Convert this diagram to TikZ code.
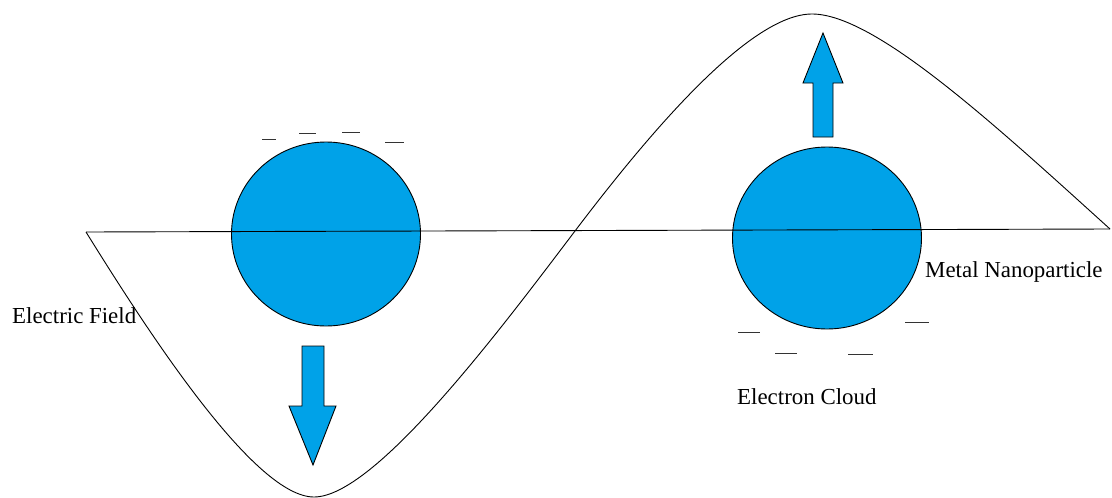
\documentclass[tikz,border=0pt]{standalone}
\usepackage{fontspec}
\setmainfont{Liberation Serif}
\usetikzlibrary{shapes.geometric}
\definecolor{paintblue}{RGB}{0,162,232}
\tikzset{
  particle/.style={ellipse, draw=black, line width=0.9pt, fill=paintblue, inner sep=0pt},
  fieldarrow/.style={draw=black, line width=0.9pt, fill=paintblue, line join=miter},
  charge/.style={draw=black!80, line width=1pt},
  wave/.style={draw=black, line width=0.9pt},
  lbl/.style={font=\fontsize{22.9}{26}\selectfont, anchor=base west, inner sep=0pt}
}
\begin{document}
\begin{tikzpicture}[x=1pt,y=-1pt]
\useasboundingbox (0,0) rectangle (1112,498);
% particles
\node[particle, minimum width=189pt, minimum height=184pt] (p1) at (326,234) {};
\node[particle, minimum width=189pt, minimum height=182pt] (p2) at (827,238) {};
% axis
\coordinate (a0) at (86,232);
\coordinate (a1) at (1110,229);
\draw[wave] (a0) -- (a1);
% wave
\coordinate (w1) at (314,497);
\coordinate (w2) at (575,231);
\coordinate (w3) at (812,14);
\draw[wave] (a0) .. controls (150,335) and (255,497) .. (w1)
  .. controls (375,497) and (500,330) .. (w2)
  .. controls (650,132) and (750,14) .. (w3)
  .. controls (875,14) and (995,125) .. (a1);
% arrows
\draw[fieldarrow] (302,346) -- (324,346) -- (324,406) -- (336,406) -- (313,465) -- (289,406) -- (302,406) -- cycle;
\draw[fieldarrow] (813,137) -- (833,137) -- (833,83) -- (843,83) -- (823,33) -- (803,83) -- (813,83) -- cycle;
% charges top
\draw[charge] (262,139) -- (276,139);
\draw[charge] (299,133) -- (316,133);
\draw[charge] (342,132) -- (360,132);
\draw[charge] (385,142) -- (404,142);
% charges bottom
\draw[charge] (738,332) -- (760,332);
\draw[charge] (775,353) -- (797,353);
\draw[charge] (848,354) -- (873,354);
\draw[charge] (905,322) -- (929,322);
% labels
\node[lbl] (ef) at (12,323) {Electric Field};
\node[lbl] (mn) at (925,277) {Metal Nanoparticle};
\node[lbl] (ec) at (737,404) {Electron Cloud};
\end{tikzpicture}
\end{document}
